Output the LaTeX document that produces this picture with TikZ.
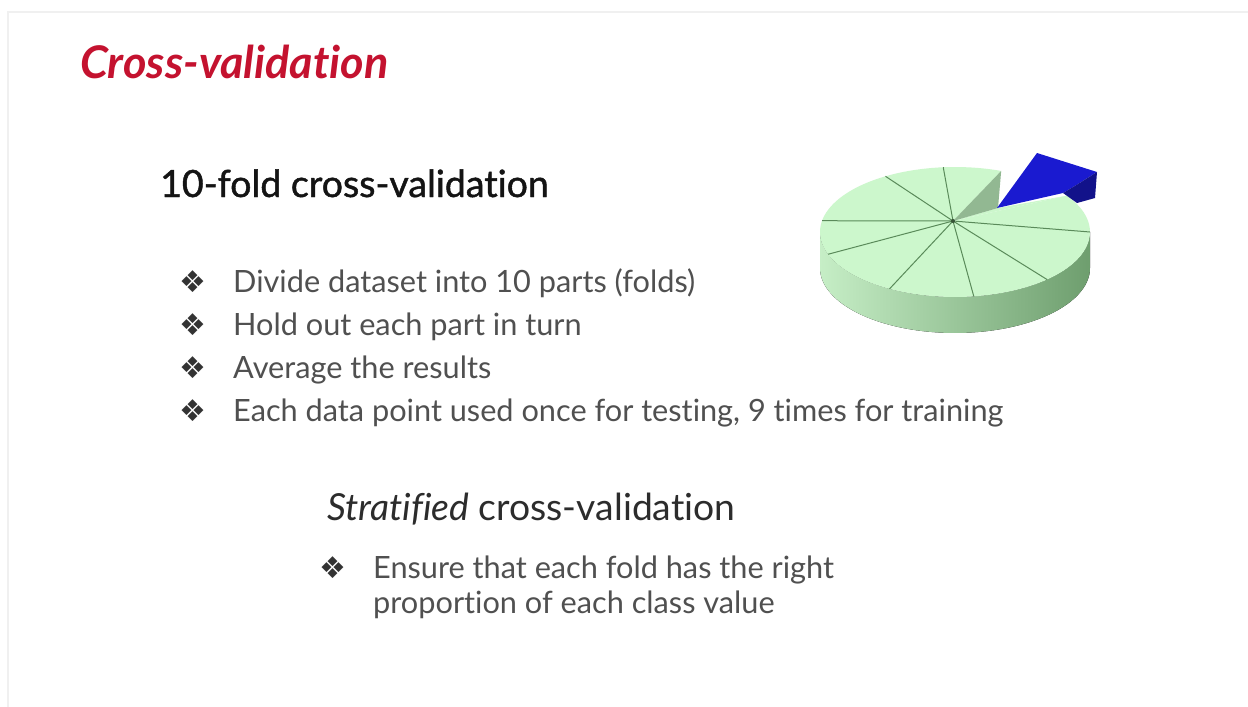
\documentclass[tikz,border=0pt]{standalone}
\usepackage{fontspec}
\setmainfont{Lato}[Ligatures={NoCommon,NoRare,NoContextual}]
\newfontfamily\headfont{Lato}[Ligatures={NoCommon,NoRare,NoContextual}, FakeBold=1.2]
\newfontfamily\symfont{DejaVu Sans}
\usetikzlibrary{positioning}

\definecolor{titlered}{HTML}{C4122F}
\definecolor{headblack}{HTML}{141414}
\definecolor{bodygrey}{HTML}{505050}
\definecolor{piegreen}{HTML}{CCF7CC}
\definecolor{pieline}{HTML}{5A8A5A}
\definecolor{sidelight}{HTML}{C6EEC6}
\definecolor{sidedark}{HTML}{6E9E6E}
\definecolor{cutface}{HTML}{92B892}
\definecolor{foldblue}{HTML}{1A1AD0}
\definecolor{foldnavy}{HTML}{12128A}

\tikzset{
  point/.style={anchor=base west, inner sep=0pt, text=bodygrey, font=\fontsize{30.7}{36}\selectfont},
  bulletmark/.style={anchor=base east, inner sep=0pt, text=black!80, font=\symfont\fontsize{30}{30}\selectfont},
}

\begin{document}
\begin{tikzpicture}[x=1pt, y=-1pt, node distance=26pt]
				\fill[white] (0,0) rectangle (1248,707);
				\useasboundingbox (0,0) rectangle (1248,707);
				\draw[black!6, line width=1.5pt] (8,707) -- (8,12) -- (1248,12);

				% titles
				\node [anchor=base west, inner sep=0pt, text=titlered, font=\bfseries\itshape\fontsize{45}{54}\selectfont] (title) at (80,78) {Cross-validation};
				\node [anchor=base west, inner sep=0pt, text=headblack, font=\headfont\fontsize{37.5}{44}\selectfont] (tenfold) at (160,197) {10-fold cross-validation};

				\node [point] (d1) at (233,292) {Divide dataset into 10 parts (folds)};
				\node [below=43pt of d1.base west, point] (d2) {Hold out each part in turn};
				\node [below=43pt of d2.base west, point] (d3) {Average the results};
				\node [below=43pt of d3.base west, point] (d4) {Each data point used once for testing, 9 times for training};
				\node [bulletmark, left=of d1.base west, anchor=base east] (b1) {❖};
				\node [bulletmark, left=of d2.base west, anchor=base east] (b2) {❖};
				\node [bulletmark, left=of d3.base west, anchor=base east] (b3) {❖};
				\node [bulletmark, left=of d4.base west, anchor=base east] (b4) {❖};

				\node [anchor=base west, inner sep=0pt, text=headblack!90, font=\fontsize{37.3}{44}\selectfont] (strat) at (327,520) {\textit{Stratified} cross-validation};
				\node [point] (e1) at (373,578) {Ensure that each fold has the right};
				\node [below=35pt of e1.base west, point] (e2) {proportion of each class value};
				\node [bulletmark, left=of e1.base west, anchor=base east] (b5) {❖};

				% pie with one fold taken out
				\coordinate (hub) at (953,221);
				\fill[left color=sidelight, right color=sidedark]
				plot[domain=180:360, samples=60] ({955+135*cos(\x)},{232-65*sin(\x)})
				-- plot[domain=360:180, samples=60] ({955+135*cos(\x)},{268-65*sin(\x)}) -- cycle;
				\fill[piegreen] (hub) -- plot[domain=70:394, samples=120] ({955+135*cos(\x)},{232-65*sin(\x)}) -- cycle;
				\fill[piegreen] (hub) -- (998,208) -- ({955+135*cos(34)},{232-65*sin(34)}) -- cycle;
				\foreach \a in {170,121,95,0,-47,-82,-119,-160}
				\draw[pieline, line width=1pt] (hub) -- ({955+135*cos(\a)},{232-65*sin(\a)});
				\fill[cutface] (hub) -- ({955+135*cos(70)},{232-65*sin(70)}) -- (998,208) -- cycle;
				\fill[pieline!60!black] (hub) circle (2);
				\fill[foldblue] (997,208) -- (1037,153) -- (1097,172) -- (1078,184) -- (1063,193) -- cycle;
				\fill[foldnavy] (1078,184) -- (1097,172) -- (1095,198) -- (1077,203) -- (1063,193) -- cycle;
			\end{tikzpicture}
\end{document}
